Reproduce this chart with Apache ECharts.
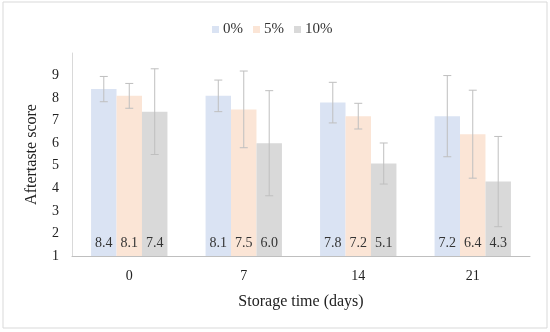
<!DOCTYPE html>
<html><head><meta charset="utf-8">
<script src="https://cdn.jsdelivr.net/npm/echarts@6/dist/echarts.min.js"></script>
<style>html,body{margin:0;padding:0;background:#fff}#c{width:550px;height:332px}</style>
</head><body><div id="c"></div>
<script>
const categories = ['0', '7', '14', '21'];
const seriesNames = ['0%', '5%', '10%'];
const mean0 = [8.4, 8.1, 7.8, 7.2];
const mean5 = [8.1, 7.5, 7.2, 6.4];
const mean10 = [7.4, 6.0, 5.1, 4.3];
const sd0 = [0.56, 0.7, 0.9, 1.8];
const sd5 = [0.55, 1.7, 0.57, 1.95];
const sd10 = [1.9, 2.33, 0.91, 2.0];
const yTicks = [1, 2, 3, 4, 5, 6, 7, 8, 9];

const means = [mean0, mean5, mean10];
const sds = [sd0, sd5, sd10];
const colors = ['#dae3f3', '#fbe5d6', '#d9d9d9'];
const FONT = 'Liberation Serif';
const catGap = 0.333;

const chart = echarts.init(document.getElementById('c'));
const series = [];
means.forEach((m, i) => {
  series.push({
    name: seriesNames[i], type: 'bar', data: m,
    barGap: '0%', barCategoryGap: '33.3%',
    itemStyle: { color: colors[i] },
    label: { show: true, position: 'insideBottom', distance: 6, color: '#333',
      fontFamily: FONT, fontSize: 14, formatter: p => p.value.toFixed(1) },
    z: 2
  });
});
means.forEach((m, i) => {
  series.push({
    type: 'custom', name: seriesNames[i] + ' err', z: 5, silent: true,
    data: m.map((v, k) => [k, v - sds[i][k], v + sds[i][k]]),
    renderItem: (params, api) => {
      const k = api.value(0);
      const lo = api.coord([k, api.value(1)]);
      const hi = api.coord([k, api.value(2)]);
      const band = api.size([1, 0])[0];
      const bw = band * (1 - catGap) / 3;
      const x = lo[0] + (i - 1) * bw;
      const cap = 4;
      const st = { stroke: '#bfbfbf', lineWidth: 1 };
      return { type: 'group', children: [
        { type: 'line', shape: { x1: x, y1: hi[1], x2: x, y2: lo[1] }, style: st },
        { type: 'line', shape: { x1: x - cap, y1: hi[1], x2: x + cap, y2: hi[1] }, style: st },
        { type: 'line', shape: { x1: x - cap, y1: lo[1], x2: x + cap, y2: lo[1] }, style: st }
      ]};
    }
  });
});

chart.setOption({
  animation: false,
  backgroundColor: '#fff',
  textStyle: { fontFamily: FONT },
  graphic: [{ type: 'rect', shape: { x: 3, y: 2, width: 544, height: 326 },
    style: { fill: 'none', stroke: '#d9d9d9', lineWidth: 1 }, z: -1 }],
  legend: {
    data: seriesNames, top: 17, left: 207, itemWidth: 7, itemHeight: 7, itemGap: 10,
    icon: 'rect', textStyle: { fontFamily: FONT, fontSize: 15, color: '#333', padding: [0, 0, 0, -1] }
  },
  grid: { left: 72, right: 20, top: 53, bottom: 76 },
  xAxis: {
    type: 'category', data: categories,
    name: 'Storage time (days)', nameLocation: 'middle', nameGap: 38,
    nameTextStyle: { fontFamily: FONT, fontSize: 16, color: '#222' },
    axisLine: { lineStyle: { color: '#bfbfbf' } }, axisTick: { show: false },
    axisLabel: { fontFamily: FONT, fontSize: 14, color: '#222', margin: 13 }
  },
  yAxis: {
    type: 'value', min: 1, max: 10, interval: 1,
    name: 'Aftertaste score', nameLocation: 'middle', nameGap: 32,
    nameTextStyle: { fontFamily: FONT, fontSize: 16, color: '#222' },
    axisLine: { show: true, lineStyle: { color: '#d9d9d9' } }, axisTick: { show: false },
    splitLine: { show: false },
    axisLabel: { fontFamily: FONT, fontSize: 14, color: '#222', margin: 13,
      formatter: v => yTicks.includes(v) ? String(v) : '' }
  },
  series: series
});
</script></body></html>
